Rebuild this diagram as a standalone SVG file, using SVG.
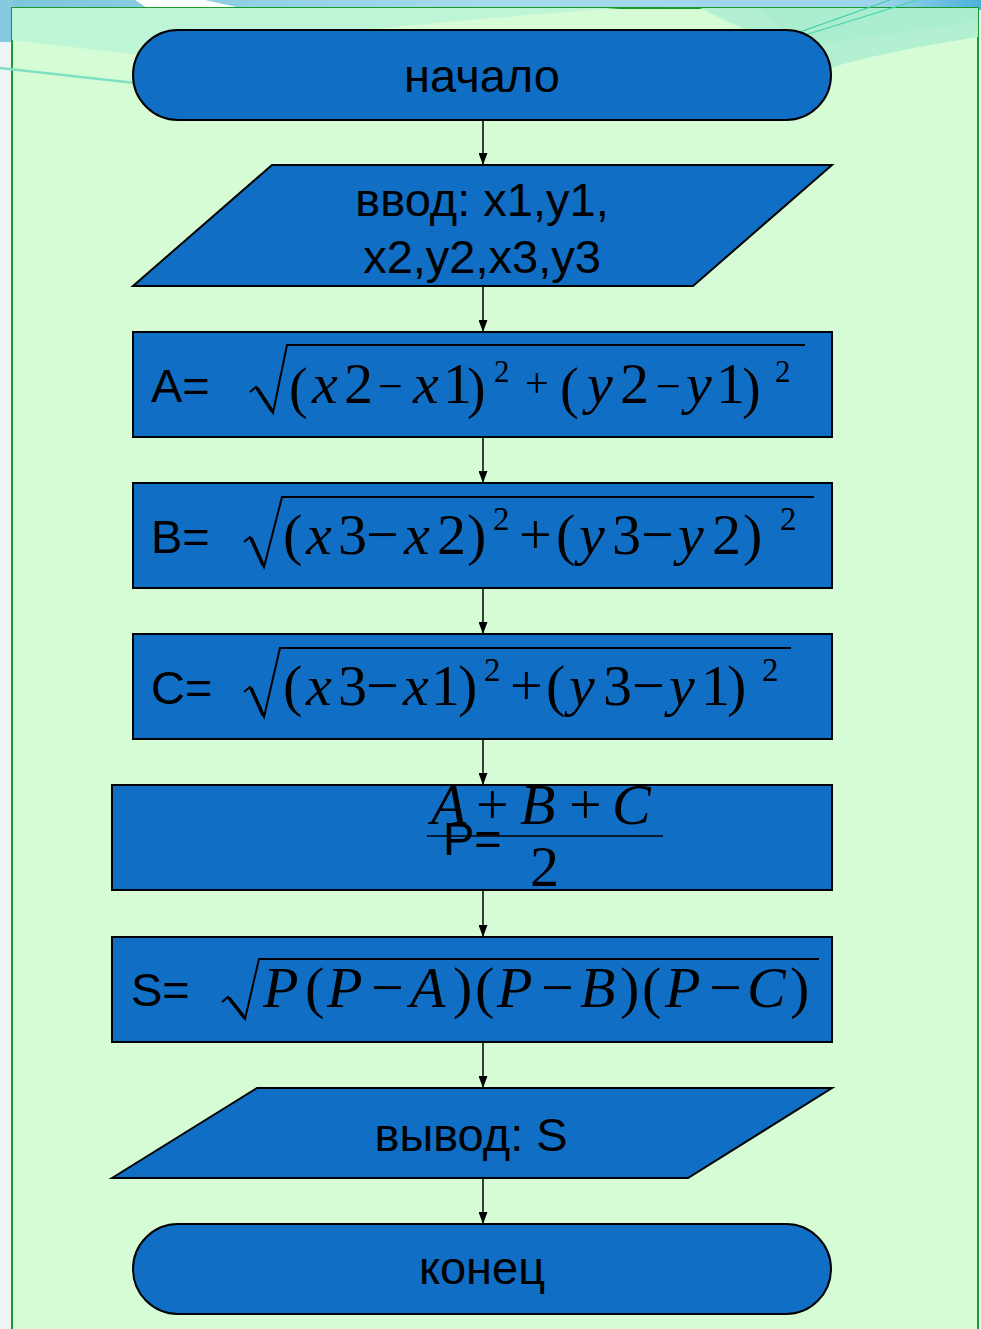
<svg xmlns="http://www.w3.org/2000/svg" width="981" height="1329" viewBox="0 0 981 1329">
<style>
.shape{fill:#106ec4;stroke:#000;stroke-width:2}
.lbl{font-family:"Liberation Sans",Arial,sans-serif;font-size:47px;fill:#000}
.m{font-family:"Liberation Serif","Times New Roman",serif;font-size:58px;fill:#000}
.i{font-style:italic}
.sup{font-size:33px}
.rad{fill:none;stroke:#000;stroke-width:2}
.radd{fill:none;stroke:#000;stroke-width:3.5}
.conn line{stroke:#000;stroke-width:1.5;marker-end:url(#ah)}
</style>
<defs>
<marker id="ah" markerUnits="userSpaceOnUse" markerWidth="12" markerHeight="9" refX="12" refY="4.5" orient="auto">
<path d="M0,0 L12,4.5 L0,9 Z" fill="#000"/>
</marker>
<linearGradient id="topg" x1="0" y1="0" x2="1" y2="0">
<stop offset="0" stop-color="#7cc5dc"/>
<stop offset="0.5" stop-color="#a6daec"/>
<stop offset="0.9" stop-color="#9cd4ea"/>
<stop offset="1" stop-color="#4cb0da"/>
</linearGradient>
<clipPath id="inner"><rect x="12" y="8" width="966" height="1330"/></clipPath>
</defs>
<g id="background">
<rect x="0" y="0" width="981" height="1329" fill="#eef4f3"/>
<rect x="0" y="0" width="981" height="10" fill="url(#topg)"/>
<rect x="0" y="0" width="14" height="42" fill="#84c9df"/>
<polygon points="135,0 205,0 250,10 150,10" fill="#ffffff"/>
<rect x="12" y="8" width="966" height="1335" fill="#d6fcd6" stroke="#1a9a2a" stroke-width="2"/>
<g clip-path="url(#inner)">
<path d="M12,8 L620,8 C420,22 240,42 140,55 L12,40 Z" fill="#bdf5d6"/>
<path d="M700,8 L978,8 L978,37 C920,46 870,56 830,68 C790,50 740,28 700,8 Z" fill="#b3f0d2"/>
<path d="M760,8 L978,8 L978,22 C900,32 850,40 800,48 Z" fill="#aaedcf"/>
</g>
<line x1="0" y1="68" x2="135" y2="83" stroke="#7ee2c2" stroke-width="2.5"/>
<line x1="783" y1="38" x2="890" y2="0" stroke="#3ccfae" stroke-width="1.2"/>
<line x1="792" y1="39" x2="918" y2="0" stroke="#44d6b0" stroke-width="1.2"/>
</g>
<g class="conn" id="connectors">
<line x1="483" y1="120" x2="483" y2="165"/>
<line x1="483" y1="286" x2="483" y2="332"/>
<line x1="483" y1="437" x2="483" y2="483"/>
<line x1="483" y1="588" x2="483" y2="634"/>
<line x1="483" y1="739" x2="483" y2="785"/>
<line x1="483" y1="890" x2="483" y2="937"/>
<line x1="483" y1="1042" x2="483" y2="1088"/>
<line x1="483" y1="1178" x2="483" y2="1224"/>
</g>
<g id="start">
<rect class="shape" x="133" y="30" width="698" height="90" rx="45" ry="45"/>
<text class="lbl" x="482" y="92" text-anchor="middle">начало</text>
</g>
<g id="input">
<polygon class="shape" points="133,286 272,165 832,165 693,286"/>
<text class="lbl" x="482" y="216" text-anchor="middle">ввод: x1,y1,</text>
<text class="lbl" x="482" y="273" text-anchor="middle">x2,y2,x3,y3</text>
</g>
<g id="calcA">
<rect class="shape" x="133" y="332" width="699" height="105"/>
<text class="lbl" x="151" y="402">A=</text>
<polyline class="rad" points="250,392 256,387 273,413 287,345 805,345"/>
<line class="radd" x1="257" y1="388" x2="272" y2="411"/>
<text class="m" font-size="47">
<tspan x="289" y="407" font-size="56">(</tspan><tspan x="312" y="403" class="i">x</tspan><tspan x="344" y="403">2</tspan><tspan x="378" y="401" font-size="44">−</tspan><tspan x="413" y="403" class="i">x</tspan><tspan x="443" y="403">1</tspan><tspan x="467" y="407" font-size="56">)</tspan><tspan x="494" y="382" font-size="31">2</tspan><tspan x="525" y="397" font-size="42">+</tspan><tspan x="560" y="407" font-size="56">(</tspan><tspan x="587" y="403" class="i">y</tspan><tspan x="620" y="403">2</tspan><tspan x="656" y="401" font-size="44">−</tspan><tspan x="686" y="403" class="i">y</tspan><tspan x="716" y="403">1</tspan><tspan x="742" y="407" font-size="56">)</tspan><tspan x="775" y="382" font-size="31">2</tspan>
</text>
</g>
<g id="calcB">
<rect class="shape" x="133" y="483" width="699" height="105"/>
<text class="lbl" x="151" y="553">B=</text>
<polyline class="rad" points="244,542 250,537 264,567 282,497 814,497"/>
<line class="radd" x1="251" y1="538" x2="263" y2="565"/>
<text class="m">
<tspan x="283" y="554">(</tspan><tspan x="306" y="554" class="i">x</tspan><tspan x="338" y="554">3</tspan><tspan x="366" y="554">−</tspan><tspan x="404" y="554" class="i">x</tspan><tspan x="437" y="554">2</tspan><tspan x="467" y="554">)</tspan><tspan x="493" y="530" class="sup">2</tspan><tspan x="519" y="554">+</tspan><tspan x="556" y="554">(</tspan><tspan x="579" y="554" class="i">y</tspan><tspan x="612" y="554">3</tspan><tspan x="641" y="554">−</tspan><tspan x="678" y="554" class="i">y</tspan><tspan x="712" y="554">2</tspan><tspan x="743" y="554">)</tspan><tspan x="780" y="530" class="sup">2</tspan>
</text>
</g>
<g id="calcC">
<rect class="shape" x="133" y="634" width="699" height="105"/>
<text class="lbl" x="151" y="704">C=</text>
<polyline class="rad" points="244,692 250,687 264,717 280,648 791,648"/>
<line class="radd" x1="251" y1="688" x2="263" y2="715"/>
<text class="m">
<tspan x="283" y="705">(</tspan><tspan x="306" y="705" class="i">x</tspan><tspan x="338" y="705">3</tspan><tspan x="366" y="705">−</tspan><tspan x="403" y="705" class="i">x</tspan><tspan x="431" y="705">1</tspan><tspan x="458" y="705">)</tspan><tspan x="484" y="681" class="sup">2</tspan><tspan x="510" y="705">+</tspan><tspan x="546" y="705">(</tspan><tspan x="569" y="705" class="i">y</tspan><tspan x="603" y="705">3</tspan><tspan x="632" y="705">−</tspan><tspan x="669" y="705" class="i">y</tspan><tspan x="701" y="705">1</tspan><tspan x="727" y="705">)</tspan><tspan x="762" y="681" class="sup">2</tspan>
</text>
</g>
<g id="calcP">
<rect class="shape" x="112" y="785" width="720" height="105"/>
<text class="m" font-size="52">
<tspan x="431" y="824" class="i">A</tspan><tspan x="476" y="824">+</tspan><tspan x="520" y="824" class="i">B</tspan><tspan x="569" y="824">+</tspan><tspan x="612" y="824" class="i">C</tspan><tspan x="530" y="886">2</tspan>
</text>
<line x1="427" y1="836" x2="663" y2="836" stroke="#000" stroke-width="1.5"/>
<text class="lbl" x="443" y="855">P=</text>
</g>
<g id="calcS">
<rect class="shape" x="112" y="937" width="720" height="105"/>
<text class="lbl" x="131" y="1006">S=</text>
<polyline class="rad" points="222,1002 228,997 245,1019 259,959 819,959"/>
<line class="radd" x1="229" y1="998" x2="244" y2="1017"/>
<text class="m">
<tspan x="263" y="1007" class="i">P</tspan><tspan x="305" y="1007">(</tspan><tspan x="327" y="1007" class="i">P</tspan><tspan x="371" y="1007">−</tspan><tspan x="410" y="1007" class="i">A</tspan><tspan x="453" y="1007">)</tspan><tspan x="475" y="1007">(</tspan><tspan x="497" y="1007" class="i">P</tspan><tspan x="541" y="1007">−</tspan><tspan x="580" y="1007" class="i">B</tspan><tspan x="620" y="1007">)</tspan><tspan x="642" y="1007">(</tspan><tspan x="665" y="1007" class="i">P</tspan><tspan x="709" y="1007">−</tspan><tspan x="747" y="1007" class="i">C</tspan><tspan x="790" y="1007">)</tspan>
</text>
</g>
<g id="output">
<polygon class="shape" points="112,1178 257,1088 832,1088 688,1178"/>
<text class="lbl" x="471" y="1151" text-anchor="middle">вывод: S</text>
</g>
<g id="end">
<rect class="shape" x="133" y="1224" width="698" height="90" rx="45" ry="45"/>
<text class="lbl" x="482" y="1284" text-anchor="middle">конец</text>
</g>
</svg>
